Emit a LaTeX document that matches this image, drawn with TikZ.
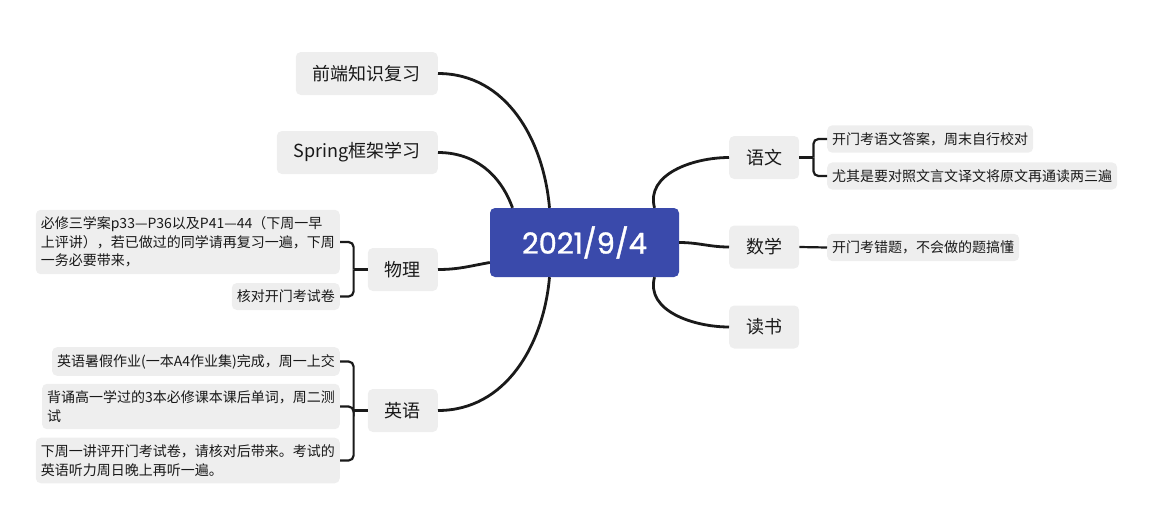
\documentclass[tikz,border=0pt]{standalone}
\usepackage{fontspec}
\setmainfont{Noto Sans CJK SC}
\newfontfamily\datefont[FakeBold=1.2]{Poppins}
\usetikzlibrary{calc}

\definecolor{hubblue}{HTML}{3A4AAB}
\definecolor{leafgray}{HTML}{EEEEEE}
\definecolor{inkline}{HTML}{1A1A1A}

\begin{document}
\begin{tikzpicture}[x=1pt,y=-1pt,
    hub/.style={fill=hubblue,text=white,rounded corners=5pt,minimum width=189pt,minimum height=69pt,
      font=\datefont\fontsize{29}{32}\selectfont},
    branch/.style={fill=leafgray,text=black!90,rounded corners=5pt,minimum height=43pt,inner xsep=17pt,
      font=\fontsize{18}{21}\selectfont},
    leaf/.style={fill=leafgray,text=black!90,rounded corners=5pt,inner xsep=5pt,inner ysep=7pt,align=left,
      font=\fontsize{14}{18.5}\selectfont},
    link/.style={draw=inkline,line width=2.8pt},
    brace/.style={draw=inkline,line width=2.2pt,rounded corners=5pt}]
  \useasboundingbox (0,0) rectangle (1160,520);
  % centre and main topics
  \draw
    (584.5,242.5) node[hub] (hub){2021/9/4}
    (438,73.5) node[branch,anchor=east] (qianduan){前端知识复习}
    (438,152.5) node[branch,anchor=east] (spring){Spring框架学习}
    (438,269.5) node[branch,anchor=east] (wuli){物理}
    (438,410.5) node[branch,anchor=east] (yingyu){英语}
    (729,157.5) node[branch,anchor=west] (yuwen){语文}
    (729,247) node[branch,anchor=west] (shuxue){数学}
    (729,327) node[branch,anchor=west] (dushu){读书};
  % details
  \draw
    (827,139) node[leaf,anchor=west] (yuwen1){开门考语文答案，周末自行校对}
    (827,176) node[leaf,anchor=west] (yuwen2){尤其是要对照文言文译文将原文再通读两三遍}
    (827,247.5) node[leaf,anchor=west] (shuxue1){开门考错题，不会做的题搞懂}
    (340,242) node[leaf,anchor=east] (wuli1){必修三学案p33—P36以及P41—44（下周一早\\上评讲），若已做过的同学请再复习一遍，下周\\一务必要带来，}
    (340,296.5) node[leaf,anchor=east] (wuli2){核对开门考试卷}
    (340,361.5) node[leaf,anchor=east] (yingyu1){英语暑假作业(一本A4作业集)完成，周一上交}
    (340,406.5) node[leaf,anchor=east] (yingyu2){背诵高一学过的3本必修课本课后单词，周二测\\试}
    (340,460.5) node[leaf,anchor=east] (yingyu3){下周一讲评开门考试卷，请核对后带来。考试的\\英语听力周日晚上再听一遍。};
  \coordinate (yw-j) at ($(yuwen.east)+(14,0)$);
  \coordinate (wl-j) at ($(wuli.west)+(-14,0)$);
  \coordinate (yy-j) at ($(yingyu.west)+(-14,0)$);
  % connectors
  \begin{scope}[link]
    \draw ([xshift=-35pt]hub.north) to[out=95,in=0] (qianduan.east);
    \draw ([xshift=-72pt]hub.north) to[out=110,in=0] (spring.east);
    \draw ([yshift=-20pt]hub.west) to[out=190,in=0] (wuli.east);
    \draw ([xshift=-35pt]hub.south) to[out=-95,in=0] (yingyu.east);
    \draw ([xshift=70pt]hub.north) to[out=105,in=180] (yuwen.west);
    \draw (hub.east) to[out=0,in=180] (shuxue.west);
    \draw ([xshift=70pt]hub.south) to[out=-105,in=180] (dushu.west);
  \end{scope}
  \begin{scope}[brace]
    \draw (yuwen.east) -- (yw-j);
    \draw (yw-j) |- (yuwen1.west);
    \draw (yw-j) |- (yuwen2.west);
    \draw (shuxue.east) -- (shuxue1.west);
    \draw (wuli.west) -- (wl-j);
    \draw (wl-j) |- (wuli1.east);
    \draw (wl-j) |- (wuli2.east);
    \draw (yingyu.west) -- (yy-j);
    \draw (yy-j) |- (yingyu1.east);
    \draw (yy-j) -- (yy-j |- yingyu2.east) -- (yingyu2.east);
    \draw (yy-j) |- (yingyu3.east);
  \end{scope}
\end{tikzpicture}
\end{document}
